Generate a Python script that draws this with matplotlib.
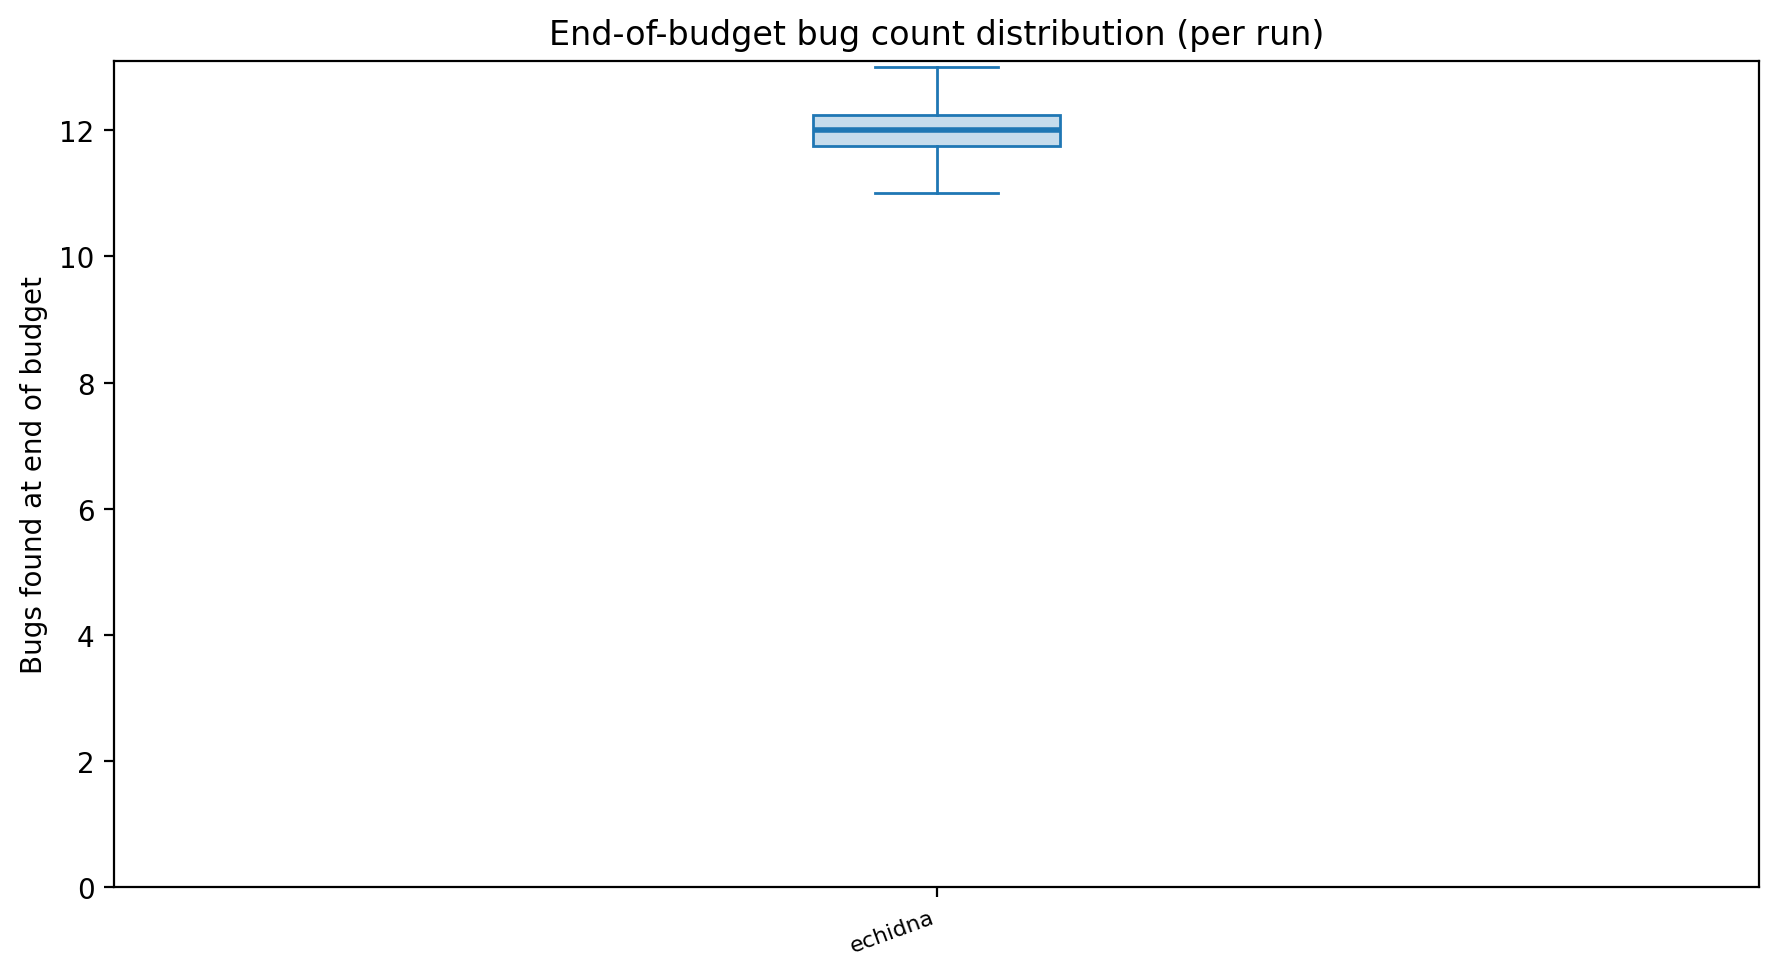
import matplotlib
matplotlib.use("Agg")
import matplotlib.pyplot as plt

tools = ["echidna"]
bug_counts = [[11, 12, 12, 13]]

fig = plt.figure(figsize=(1779/200, 978/200), dpi=200)
ax = fig.add_axes([114/1779, 1-888/978, (1759-114)/1779, (888-62)/978])

c = "#1f77b4"
bp = ax.boxplot(bug_counts, positions=range(1, len(tools)+1), widths=0.15, patch_artist=True,
                boxprops=dict(facecolor=(31/255, 119/255, 180/255, 0.25), edgecolor=c, linewidth=1.0),
                medianprops=dict(color=c, linewidth=2),
                whiskerprops=dict(color=c, linewidth=1.0),
                capprops=dict(color=c, linewidth=1.0),
                flierprops=dict(markeredgecolor=c))
ax.set_ylim(bottom=0)
ax.set_xticks(range(1, len(tools)+1))
ax.set_xticklabels(tools, rotation=20, ha="right", fontsize=8)
ax.set_ylabel("Bugs found at end of budget")
ax.set_title("End-of-budget bug count distribution (per run)")
fig.savefig("out.png", dpi=200)
